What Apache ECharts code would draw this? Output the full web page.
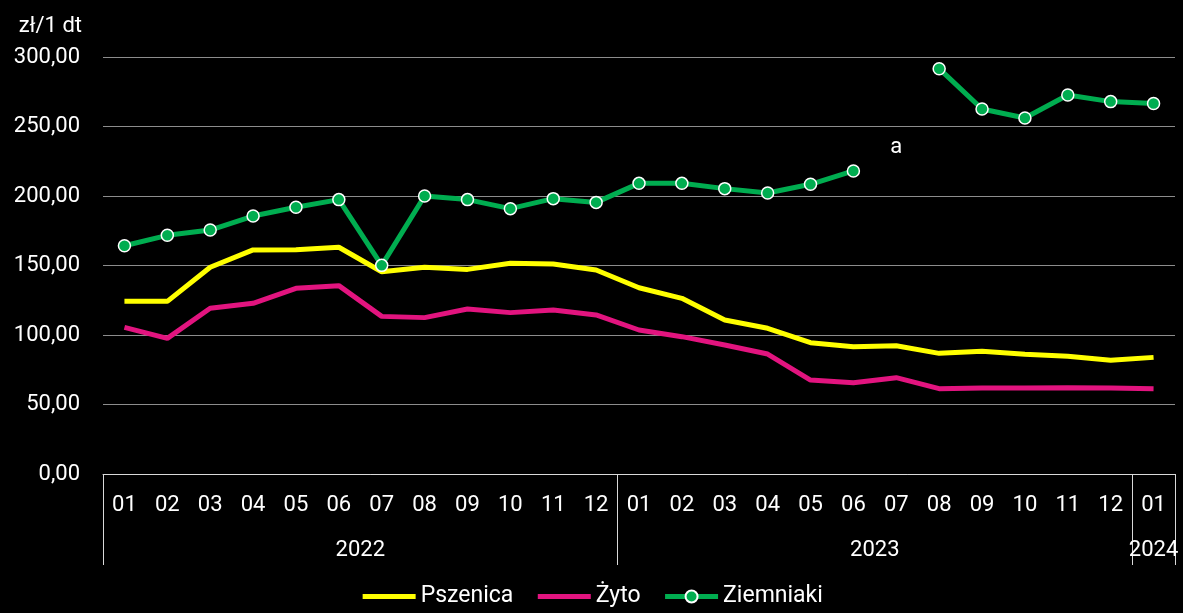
<!DOCTYPE html>
<html>
<head>
<meta charset="utf-8">
<script src="https://cdn.jsdelivr.net/npm/echarts@6/dist/echarts.min.js"></script>
<style>
  html, body { margin: 0; padding: 0; background: #000; }
  #chart { width: 1183px; height: 613px; }
</style>
</head>
<body>
<div id="chart"></div>
<script>
// miesiące 2022-01 .. 2024-01
const months = ["01","02","03","04","05","06","07","08","09","10","11","12",
                "01","02","03","04","05","06","07","08","09","10","11","12",
                "01"]
const years = ["2022", "2023", "2024"]
const yearStart = [0, 12, 24]   // indeks pierwszego miesiąca roku
const yearEnd = [12, 24, 25]

const pszenica = [124.2, 124.2, 148.7, 161.2, 161.4, 163.1, 145.5, 148.7, 147.2, 151.6, 151.1, 146.8,
                  134.0, 126.4, 110.8, 104.8, 94.5, 91.6, 92.3, 86.8, 88.3, 86.1, 84.7, 81.8, 83.9]
const zyto = [105.5, 97.6, 119.2, 122.8, 133.6, 135.5, 113.4, 112.5, 118.7, 116.1, 118.0, 114.4,
              103.6, 98.8, 92.8, 86.3, 67.6, 65.7, 69.3, 61.4, 61.9, 61.9, 62.1, 61.9, 61.4]
const ziemniaki = [164.2, 171.7, 175.5, 185.6, 191.9, 197.4, 150.1, 200.0, 197.4, 190.9, 198.1, 195.4,
                   209.1, 209.1, 205.3, 202.2, 208.4, 218.0, null, 291.6, 262.6, 256.1, 272.7, 267.9, 266.5]

const categories = months.map((m, i) => i + "_" + m)
const fontFamily = "Roboto"
const textColor = "#fff"

// pozycje etykiet lat i linii podziału
const yearCenters = years.map((y, i) => (yearStart[i] + yearEnd[i]) / 2)
const dividers = [0].concat(yearEnd)

const chart = echarts.init(document.getElementById("chart"))
chart.setOption({
    backgroundColor: "#000",
    animation: false,
    textStyle: { fontFamily: fontFamily },
    grid: {
        left: 103,
        right: 8,
        top: 57,
        bottom: 139
    },
    legend: {
        bottom: 0,
        left: "center",
        itemWidth: 53,
        itemHeight: 15,
        itemGap: 22,
        lineStyle: { width: 5 },
        textStyle: { color: textColor, fontSize: 23, fontFamily: fontFamily },
        data: [
            { name: "Pszenica", itemStyle: { color: "rgba(0,0,0,0)", borderWidth: 0 } },
            { name: "Żyto", itemStyle: { color: "rgba(0,0,0,0)", borderWidth: 0 } },
            { name: "Ziemniaki" }
        ]
    },
    xAxis: [
        {
            type: "category",
            data: categories,
            boundaryGap: true,
            axisLine: { show: true, lineStyle: { color: "#d9d9d9", width: 1 } },
            axisTick: { show: false },
            axisLabel: {
                color: textColor,
                fontSize: 22,
                margin: 20,
                interval: 0,
                formatter: v => v.split("_")[1]
            },
            splitLine: { show: false }
        },
        {
            type: "value",
            position: "bottom",
            min: 0,
            max: 25,
            axisLine: { show: false },
            splitLine: { show: false },
            axisTick: {
                show: true,
                customValues: dividers,
                length: 91,
                lineStyle: { color: "#d9d9d9", width: 1 }
            },
            axisLabel: {
                show: true,
                customValues: yearCenters,
                color: textColor,
                fontSize: 22,
                margin: 65,
                formatter: v => years[yearCenters.indexOf(v)] || ""
            }
        }
    ],
    yAxis: {
        type: "value",
        min: 0,
        max: 300,
        interval: 50,
        name: "zł/1 dt",
        nameLocation: "end",
        nameGap: 20,
        nameTextStyle: {
            color: textColor,
            fontSize: 22,
            align: "right",
            padding: [0, 21, 0, 0]
        },
        axisLine: { show: false },
        axisTick: { show: false },
        axisLabel: {
            color: textColor,
            fontSize: 22,
            margin: 23,
            formatter: v => v.toFixed(2).replace(".", ",")
        },
        splitLine: { lineStyle: { color: "#8c8c8c", width: 1 } }
    },
    series: [
        {
            name: "Pszenica",
            type: "line",
            data: pszenica,
            symbol: "none",
            lineStyle: { color: "#ffff00", width: 5 },
            itemStyle: { color: "#ffff00" }
        },
        {
            name: "Żyto",
            type: "line",
            data: zyto,
            symbol: "none",
            lineStyle: { color: "#e2147f", width: 5 },
            itemStyle: { color: "#e2147f" }
        },
        {
            name: "Ziemniaki",
            type: "line",
            data: ziemniaki,
            connectNulls: false,
            symbol: "circle",
            symbolSize: 12,
            lineStyle: { color: "#00ad50", width: 5 },
            itemStyle: { color: "#00ad50", borderColor: "#fff", borderWidth: 1.5 },
            markPoint: {
                symbol: "circle",
                symbolSize: 1,
                itemStyle: { color: "rgba(0,0,0,0)" },
                label: {
                    show: true,
                    position: "inside",
                    color: textColor,
                    fontSize: 22,
                    formatter: "a"
                },
                data: [{ coord: [18, 235] }]  // brak danych 2023-07
            }
        }
    ]
})
</script>
</body>
</html>
